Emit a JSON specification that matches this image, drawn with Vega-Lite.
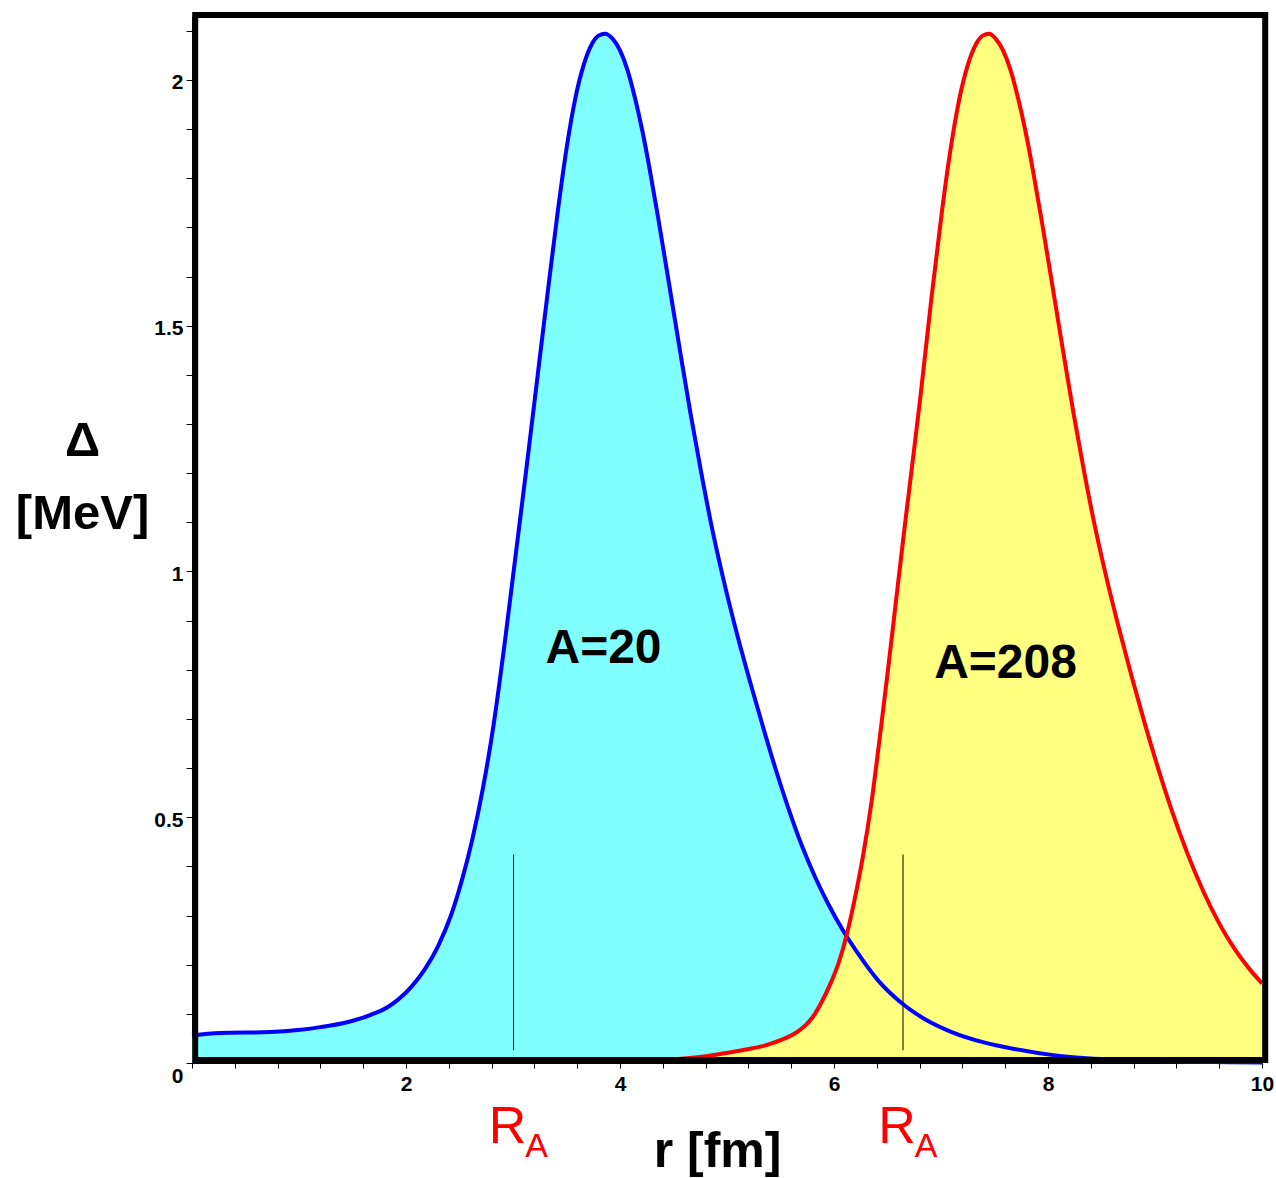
{
  "$schema": "https://vega.github.io/schema/vega-lite/v6.json",
  "width": 1070,
  "height": 1047,
  "autosize": {"type": "none"},
  "padding": {"left": 192, "top": 16, "right": 14, "bottom": 115},
  "background": "white",
  "config": {"view": {"stroke": null}, "font": "Liberation Sans"},
  "datasets": {
    "blue": [
      {"r": 0.0, "delta": 0.056}, {"r": 0.26, "delta": 0.061}, {"r": 0.73, "delta": 0.063}, {"r": 0.99, "delta": 0.067},
      {"r": 1.2, "delta": 0.073}, {"r": 1.45, "delta": 0.083}, {"r": 1.67, "delta": 0.098}, {"r": 1.83, "delta": 0.114},
      {"r": 1.92, "delta": 0.128}, {"r": 2.05, "delta": 0.155}, {"r": 2.18, "delta": 0.192}, {"r": 2.3, "delta": 0.238},
      {"r": 2.42, "delta": 0.3}, {"r": 2.52, "delta": 0.37}, {"r": 2.62, "delta": 0.455}, {"r": 2.72, "delta": 0.56},
      {"r": 2.82, "delta": 0.69}, {"r": 2.92, "delta": 0.85}, {"r": 3.02, "delta": 1.025}, {"r": 3.12, "delta": 1.2},
      {"r": 3.22, "delta": 1.38}, {"r": 3.32, "delta": 1.56}, {"r": 3.42, "delta": 1.735}, {"r": 3.5, "delta": 1.86},
      {"r": 3.58, "delta": 1.96}, {"r": 3.66, "delta": 2.03}, {"r": 3.74, "delta": 2.074}, {"r": 3.8, "delta": 2.09},
      {"r": 3.86, "delta": 2.094}, {"r": 3.93, "delta": 2.084}, {"r": 4.0, "delta": 2.06}, {"r": 4.07, "delta": 2.02},
      {"r": 4.14, "delta": 1.963}, {"r": 4.21, "delta": 1.895}, {"r": 4.28, "delta": 1.815}, {"r": 4.36, "delta": 1.715},
      {"r": 4.46, "delta": 1.583}, {"r": 4.56, "delta": 1.45}, {"r": 4.66, "delta": 1.32}, {"r": 4.76, "delta": 1.2},
      {"r": 4.86, "delta": 1.088}, {"r": 4.96, "delta": 0.99}, {"r": 5.08, "delta": 0.884}, {"r": 5.22, "delta": 0.772},
      {"r": 5.34, "delta": 0.681}, {"r": 5.46, "delta": 0.594}, {"r": 5.58, "delta": 0.514}, {"r": 5.7, "delta": 0.442},
      {"r": 5.82, "delta": 0.38}, {"r": 5.94, "delta": 0.326}, {"r": 6.08, "delta": 0.271}, {"r": 6.24, "delta": 0.218},
      {"r": 6.42, "delta": 0.166}, {"r": 6.62, "delta": 0.124}, {"r": 6.85, "delta": 0.089}, {"r": 7.1, "delta": 0.063},
      {"r": 7.4, "delta": 0.042}, {"r": 7.7, "delta": 0.028}, {"r": 8.05, "delta": 0.016}, {"r": 8.5, "delta": 0.008},
      {"r": 9.0, "delta": 0.004}, {"r": 10.0, "delta": 0.001}
    ],
    "red": [
      {"r": 4.38, "delta": 0.006}, {"r": 4.8, "delta": 0.014}, {"r": 5.14, "delta": 0.026}, {"r": 5.36, "delta": 0.036},
      {"r": 5.53, "delta": 0.049}, {"r": 5.66, "delta": 0.064}, {"r": 5.73, "delta": 0.076}, {"r": 5.8, "delta": 0.093},
      {"r": 5.88, "delta": 0.122}, {"r": 5.97, "delta": 0.163}, {"r": 6.05, "delta": 0.208}, {"r": 6.12, "delta": 0.262},
      {"r": 6.19, "delta": 0.33}, {"r": 6.27, "delta": 0.42}, {"r": 6.35, "delta": 0.53}, {"r": 6.43, "delta": 0.666},
      {"r": 6.51, "delta": 0.81}, {"r": 6.59, "delta": 0.96}, {"r": 6.66, "delta": 1.09}, {"r": 6.73, "delta": 1.215},
      {"r": 6.81, "delta": 1.36}, {"r": 6.91, "delta": 1.555}, {"r": 7.01, "delta": 1.735}, {"r": 7.09, "delta": 1.86},
      {"r": 7.17, "delta": 1.96}, {"r": 7.25, "delta": 2.03}, {"r": 7.33, "delta": 2.074}, {"r": 7.39, "delta": 2.09},
      {"r": 7.45, "delta": 2.094}, {"r": 7.51, "delta": 2.084}, {"r": 7.58, "delta": 2.06}, {"r": 7.65, "delta": 2.02},
      {"r": 7.72, "delta": 1.963}, {"r": 7.79, "delta": 1.895}, {"r": 7.86, "delta": 1.815}, {"r": 7.94, "delta": 1.715},
      {"r": 8.04, "delta": 1.583}, {"r": 8.14, "delta": 1.45}, {"r": 8.24, "delta": 1.32}, {"r": 8.34, "delta": 1.2},
      {"r": 8.44, "delta": 1.09}, {"r": 8.54, "delta": 0.993}, {"r": 8.66, "delta": 0.887}, {"r": 8.78, "delta": 0.788},
      {"r": 8.9, "delta": 0.694}, {"r": 9.02, "delta": 0.606}, {"r": 9.15, "delta": 0.518}, {"r": 9.3, "delta": 0.428},
      {"r": 9.45, "delta": 0.35}, {"r": 9.6, "delta": 0.284}, {"r": 9.75, "delta": 0.23}, {"r": 9.88, "delta": 0.192},
      {"r": 10.0, "delta": 0.162}
    ],
    "ra": [{"r": 3.005}, {"r": 6.645}],
    "labels": [
      {"r": 3.846, "delta": 0.843, "label": "A=20"},
      {"r": 7.603, "delta": 0.812, "label": "A=208"}
    ]
  },
  "layer": [
    {
      "data": {"name": "blue"},
      "mark": {"type": "area", "color": "#80FFFF", "interpolate": "monotone"},
      "encoding": {
        "x": {
          "field": "r", "type": "quantitative",
          "scale": {"domain": [0, 10], "nice": false, "zero": false},
          "axis": {
            "values": [0, 0.4, 0.8, 1.2, 1.6, 2, 2.4, 2.8, 3.2, 3.6, 4, 4.4, 4.8, 5.2, 5.6, 6, 6.4, 6.8, 7.2, 7.6, 8, 8.4, 8.8, 9.2, 9.6, 10],
            "labelExpr": "datum.value > 0 && datum.value % 2 == 0 ? format(datum.value, 'd') : ''",
            "labelOverlap": false, "labelFlush": false, "labelBound": false,
            "labelFont": "Liberation Sans", "labelFontWeight": "bold", "labelFontSize": 21, "labelColor": "black",
            "labelPadding": 5, "tickSize": 5, "tickColor": "black", "domainColor": "black", "grid": false,
            "title": "r [fm]", "titleFont": "Liberation Sans", "titleFontSize": 50, "titleFontWeight": "bold", "titleColor": "black",
            "titleAlign": "center", "titleBaseline": "alphabetic", "titleX": 525, "titleY": 103
          }
        },
        "y": {
          "field": "delta", "type": "quantitative",
          "scale": {"domain": [0, 2.13], "nice": false, "zero": false},
          "axis": {
            "values": [0, 0.1, 0.2, 0.3, 0.4, 0.5, 0.6, 0.7, 0.8, 0.9, 1, 1.1, 1.2, 1.3, 1.4, 1.5, 1.6, 1.7, 1.8, 1.9, 2, 2.1],
            "labelExpr": "datum.value * 2 == round(datum.value * 2) ? format(datum.value, '~g') : ''",
            "labelOverlap": false, "labelFlush": false, "labelBound": false,
            "labelFont": "Liberation Sans", "labelFontWeight": "bold", "labelFontSize": 21, "labelColor": "black",
            "labelPadding": 3, "labelBaseline": "middle",
            "labelOffset": {"condition": {"test": "datum.value == 0", "value": 13}, "value": 3},
            "tickSize": 6, "tickColor": "black", "domainColor": "black", "grid": false,
            "title": ["Δ", "[MeV]"], "titleFont": "Liberation Sans", "titleFontSize": 49, "titleFontWeight": "bold", "titleColor": "black",
            "titleAngle": 0, "titleAlign": "center", "titleBaseline": "alphabetic", "titleLineHeight": 73,
            "titleX": -110, "titleY": 439
          }
        }
      }
    },
    {
      "data": {"name": "red"},
      "mark": {"type": "area", "color": "#FFFF80", "interpolate": "monotone"},
      "encoding": {
        "x": {"field": "r", "type": "quantitative"},
        "y": {"field": "delta", "type": "quantitative"}
      }
    },
    {
      "data": {"name": "ra"},
      "mark": {"type": "rule", "color": "black", "strokeWidth": 1},
      "encoding": {
        "x": {"field": "r", "type": "quantitative"},
        "y": {"datum": 0.026, "type": "quantitative"},
        "y2": {"datum": 0.424}
      }
    },
    {
      "data": {"name": "blue"},
      "mark": {"type": "line", "color": "#0000FF", "strokeWidth": 4, "interpolate": "monotone"},
      "encoding": {
        "x": {"field": "r", "type": "quantitative"},
        "y": {"field": "delta", "type": "quantitative"}
      }
    },
    {
      "data": {"name": "red"},
      "mark": {"type": "line", "color": "#FF0000", "strokeWidth": 4, "interpolate": "monotone"},
      "encoding": {
        "x": {"field": "r", "type": "quantitative"},
        "y": {"field": "delta", "type": "quantitative"}
      }
    },
    {
      "data": {"values": [{"frame": 1}]},
      "mark": {"type": "rect", "filled": false, "stroke": "black", "strokeWidth": 6},
      "encoding": {
        "x": {"datum": 0.03, "type": "quantitative"},
        "x2": {"datum": 10.03},
        "y": {"datum": 0.006, "type": "quantitative"},
        "y2": {"datum": 2.132}
      }
    },
    {
      "data": {"name": "labels"},
      "mark": {"type": "text", "font": "Liberation Sans", "fontWeight": "bold", "fontSize": 48, "color": "black", "align": "center", "baseline": "middle"},
      "encoding": {
        "x": {"field": "r", "type": "quantitative"},
        "y": {"field": "delta", "type": "quantitative"},
        "text": {"field": "label"}
      }
    },
    {
      "data": {"name": "ra"},
      "mark": {"type": "text", "text": "R", "font": "Liberation Sans", "fontSize": 52, "color": "#FF0000", "align": "center", "baseline": "alphabetic", "dx": -6},
      "encoding": {
        "x": {"field": "r", "type": "quantitative"},
        "y": {"datum": -0.163, "type": "quantitative"}
      }
    },
    {
      "data": {"name": "ra"},
      "mark": {"type": "text", "text": "A", "font": "Liberation Sans", "fontSize": 34, "color": "#FF0000", "align": "center", "baseline": "alphabetic", "dx": 23, "dy": 14},
      "encoding": {
        "x": {"field": "r", "type": "quantitative"},
        "y": {"datum": -0.163, "type": "quantitative"}
      }
    }
  ]
}
